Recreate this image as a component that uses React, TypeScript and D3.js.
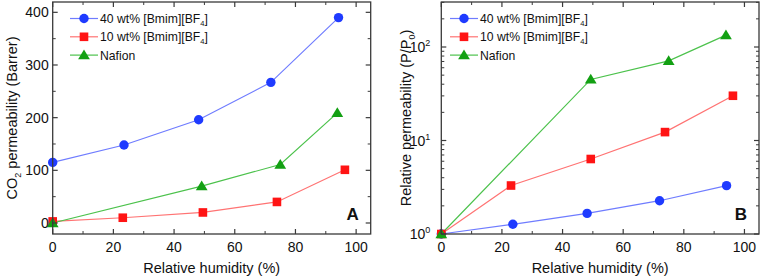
import React from "react";
import * as d3 from "d3";

const seriesNames = ["40 wt% [Bmim][BF", "10 wt% [Bmim][BF", "Nafion"];
const seriesColors = ["#1f3bff", "#ff1414", "#13a013"];
const lineColors = ["#6f7cff", "#ff7373", "#4cc24c"];
const markerTypes = ["circle", "square", "triangle"];

// Panel A: CO2 permeability (Barrer)
const aBlueX = [0, 23.5, 48.1, 71.9, 94.2];
const aBlueY = [115, 148, 196, 267, 390];
const aRedX = [0, 23.1, 49.5, 73.9, 96.3];
const aRedY = [3, 10, 20, 40, 101];
const aGreenX = [0, 49.1, 75, 93.8];
const aGreenY = [0, 70, 111, 209];

// Panel B: Relative permeability (P/P0)
const bBlueX = [0, 23.6, 48.1, 72, 94.1];
const bBlueY = [1, 1.27, 1.66, 2.27, 3.29];
const bRedX = [0, 23, 49.3, 73.8, 96.2];
const bRedY = [1, 3.3, 6.34, 12.3, 30.1];
const bGreenX = [0, 49.3, 75, 93.9];
const bGreenY = [1, 45, 71, 134];

const xTicks = [0, 20, 40, 60, 80, 100];
const aYTicks = [0, 100, 200, 300, 400];
const bYTickExps = [0, 1, 2];

const FONT = "Liberation Sans, Arial, sans-serif";

function Marker({ type, x, y, color }: { type: string; x: number; y: number; color: string }) {
  if (type === "circle") return <circle cx={x} cy={y} r={4.7} fill={color} />;
  if (type === "square") return <rect x={x - 4.3} y={y - 4.3} width={8.6} height={8.6} fill={color} />;
  const s = 5.6;
  return <path d={`M${x},${y - s} L${x + s * 1.05},${y + s * 0.75} L${x - s * 1.05},${y + s * 0.75} Z`} fill={color} />;
}

function Panel({
  left, right, top, bottom, yScale, xs, ys, yTicks, yMinor, yLabel, label, legendX, log,
}: any) {
  const x = d3.scaleLinear().domain([0, 104.8]).range([left, right]);
  const y = yScale;
  const xMinor = d3.range(10, 105, 20);
  const line = d3.line<[number, number]>().x((d) => x(d[0])).y((d) => y(d[1]));
  const frame = "#3a3a3a";
  return (
    <g fontFamily={FONT}>
      {xs.map((sx: number[], i: number) => (
        <path key={"l" + i} d={line(sx.map((v, j) => [v, ys[i][j]]) as any) || ""} fill="none" stroke={lineColors[i]} strokeWidth={1.2} />
      ))}
      {xs.map((sx: number[], i: number) =>
        sx.map((v, j) => <Marker key={"m" + i + j} type={markerTypes[i]} x={x(v)} y={y(ys[i][j])} color={seriesColors[i]} />)
      )}
      <rect x={left} y={top} width={right - left} height={bottom - top} fill="none" stroke={frame} strokeWidth={1.3} />
      {xTicks.map((t) => (
        <g key={"xt" + t}>
          <line x1={x(t)} x2={x(t)} y1={bottom} y2={bottom - 5} stroke={frame} strokeWidth={1.2} />
          <line x1={x(t)} x2={x(t)} y1={top} y2={top + 5} stroke={frame} strokeWidth={1.2} />
          <text x={x(t)} y={252} textAnchor="middle" fontSize={14} fill="#111">{t}</text>
        </g>
      ))}
      {xMinor.map((t) => (
        <g key={"xm" + t}>
          <line x1={x(t)} x2={x(t)} y1={bottom} y2={bottom - 3} stroke={frame} strokeWidth={1} />
          <line x1={x(t)} x2={x(t)} y1={top} y2={top + 3} stroke={frame} strokeWidth={1} />
        </g>
      ))}
      {yTicks.map((t: any) => (
        <g key={"yt" + t.v}>
          <line x1={left} x2={left + 5} y1={y(t.v)} y2={y(t.v)} stroke={frame} strokeWidth={1.2} />
          <line x1={right} x2={right - 5} y1={y(t.v)} y2={y(t.v)} stroke={frame} strokeWidth={1.2} />
          {log ? (
            <text x={left - 11} y={y(t.v) + 5} textAnchor="end" fontSize={14} fill="#111">
              10
              <tspan dy={-6} fontSize={9}>{t.e}</tspan>
            </text>
          ) : (
            <text x={left - 4} y={y(t.v) + 5} textAnchor="end" fontSize={14} fill="#111">{t.v}</text>
          )}
        </g>
      ))}
      {yMinor.map((v: number) => (
        <g key={"ym" + v}>
          <line x1={left} x2={left + 3} y1={y(v)} y2={y(v)} stroke={frame} strokeWidth={1} />
          <line x1={right} x2={right - 3} y1={y(v)} y2={y(v)} stroke={frame} strokeWidth={1} />
        </g>
      ))}
      <text x={(left + right) / 2} y={273} textAnchor="middle" fontSize={14.5} fill="#111">Relative humidity (%)</text>
      {yLabel}
      <text x={right - 18} y={220} textAnchor="middle" fontSize={17} fontWeight="bold" fill="#111">{label}</text>
      {seriesNames.map((n, i) => {
        const ly = 18.5 + i * 18.3;
        return (
          <g key={"lg" + i}>
            <line x1={legendX} x2={legendX + 28} y1={ly} y2={ly} stroke={lineColors[i]} strokeWidth={1.2} />
            <Marker type={markerTypes[i]} x={legendX + 14} y={ly} color={seriesColors[i]} />
            <text x={legendX + 30} y={ly + 4.5} fontSize={12.2} fill="#111">
              {n}
              {i < 2 && <tspan dy={3} fontSize={7.5}>4</tspan>}
              {i < 2 && <tspan dy={-3}>]</tspan>}
            </text>
          </g>
        );
      })}
    </g>
  );
}

export default function App() {
  const top = 2, bottom = 234;
  const yA = d3.scaleLinear().domain([-20.9, 419.6]).range([bottom, top]);
  const yB = d3.scaleLog().domain([1, Math.pow(10, (234 - 2) / 93.5)]).range([bottom, top]);
  const aMinor = d3.range(-0, 420, 50).filter((v) => v % 100 !== 0);
  const bMinor: number[] = [];
  [1, 10, 100].forEach((d) => [2, 3, 4, 5, 6, 7, 8, 9].forEach((m) => { if (d * m < yB.domain()[1]) bMinor.push(d * m); }));
  return (
    <svg width={762} height={279} style={{ position: "absolute", left: 0, top: 0 }}>
      <rect width={762} height={279} fill="#fff" />
      <Panel
        left={52.7} right={370.7} top={top} bottom={bottom} yScale={yA}
        xs={[aBlueX, aRedX, aGreenX]} ys={[aBlueY, aRedY, aGreenY]}
        yTicks={aYTicks.map((v) => ({ v }))} yMinor={aMinor}
        label="A" legendX={70}
        yLabel={
          <text transform={`translate(17,118) rotate(-90)`} textAnchor="middle" fontSize={14.5} fontFamily={FONT} fill="#111">
            CO<tspan dy={4} fontSize={9}>2</tspan><tspan dy={-4}> permeability (Barrer)</tspan>
          </text>
        }
      />
      <Panel
        left={441.3} right={759} top={top} bottom={bottom} yScale={yB}
        xs={[bBlueX, bRedX, bGreenX]} ys={[bBlueY, bRedY, bGreenY]}
        yTicks={bYTickExps.map((e) => ({ v: Math.pow(10, e), e }))} yMinor={bMinor}
        label="B" legendX={450} log
        yLabel={
          <text transform={`translate(411,118) rotate(-90)`} textAnchor="middle" fontSize={14.5} fontFamily={FONT} fill="#111">
            Relative permeability (P/P<tspan dy={4} fontSize={9}>0</tspan><tspan dy={-4}>)</tspan>
          </text>
        }
      />
    </svg>
  );
}
